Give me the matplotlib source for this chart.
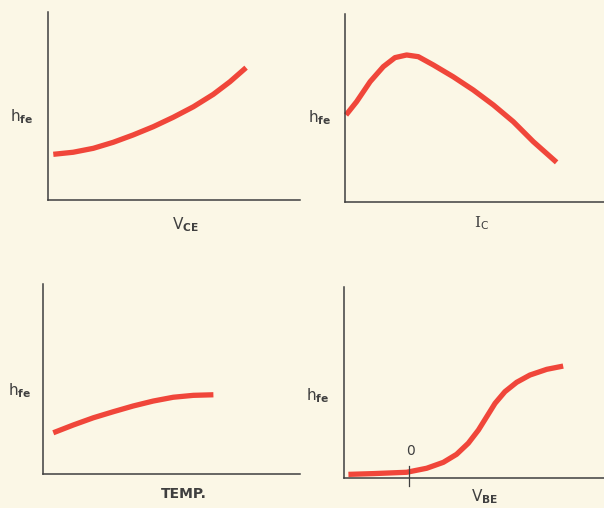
import matplotlib
matplotlib.use("Agg")
import matplotlib.pyplot as plt

W, H = 604, 508

# curves, each panel in 0-100 axis units
vce_x = [2.1, 10.0, 18.0, 25.9, 33.8, 41.8, 49.7, 57.7, 65.6, 72.2, 78.6]
vce_h = [24.3, 25.4, 27.5, 30.7, 34.6, 39.0, 44.0, 49.6, 56.2, 62.9, 70.4]

ic_x = [0.4, 4.5, 9.7, 14.8, 19.3, 23.8, 28.3, 34.1, 41.8, 49.5, 57.3, 65.0, 72.7, 81.7]
ic_h = [46.3, 53.4, 64.0, 72.0, 76.8, 78.2, 77.3, 72.9, 66.6, 59.6, 51.6, 42.7, 32.1, 21.1]

temp_x = [4.0, 11.8, 19.6, 27.4, 35.1, 42.9, 50.7, 58.5, 66.3]
temp_h = [21.7, 25.8, 29.6, 32.8, 35.8, 38.4, 40.4, 41.4, 41.7]

vbe_x = [1.7, 11.3, 24.1, 31.8, 38.2, 43.3, 47.8, 51.7, 54.9, 58.1, 61.9, 66.4, 71.5, 78.0, 84.3]
vbe_h = [1.9, 2.3, 3.0, 5.1, 8.2, 12.4, 18.2, 25.1, 32.1, 39.1, 45.2, 50.1, 53.9, 56.9, 58.6]
vbe_zero = 25.0

BG = "#fbf7e6"
RED = "#f0463a"
INK = "#3f3f3f"

plt.rcParams["font.family"] = ["DejaVu Sans"]
plt.rcParams["mathtext.fontset"] = "custom"
plt.rcParams["mathtext.rm"] = "DejaVu Sans"
plt.rcParams["mathtext.bf"] = "DejaVu Sans:bold"
plt.rcParams["mathtext.it"] = "DejaVu Serif"

fig = plt.figure(figsize=(W / 100, H / 100), dpi=100, facecolor=BG)


def panel(left, right, top, bottom):
    ax = fig.add_axes([left / W, (H - bottom) / H, (right - left) / W, (bottom - top) / H])
    ax.set_xlim(0, 100)
    ax.set_ylim(0, 100)
    ax.set_facecolor("none")
    for side in ("top", "right"):
        ax.spines[side].set_visible(False)
    for side in ("left", "bottom"):
        ax.spines[side].set_color(INK)
        ax.spines[side].set_linewidth(1.1)
    ax.set_xticks([])
    ax.set_yticks([])
    return ax


def hfe(ax, x, y):
    ax.text(x, y, r"$\mathregular{h}_{\mathbf{fe}}$", fontsize=11, color=INK,
            ha="left", va="center", clip_on=False)


def curve(ax, xs, ys):
    ax.plot(xs, ys, color=RED, lw=3.8, solid_capstyle="butt", solid_joinstyle="round", clip_on=False)


ax1 = panel(48, 300, 12, 200)
curve(ax1, vce_x, vce_h)
hfe(ax1, -15.1, 44.1)
ax1.text(54.4, -13.3, r"$\mathregular{V}_{\mathbf{CE}}$", fontsize=11, color=INK,
         ha="center", va="center", clip_on=False)

ax2 = panel(345, 604, 14, 202)
curve(ax2, ic_x, ic_h)
hfe(ax2, -14.3, 44.7)
ax2.text(52.5, -11.2, r"$\mathit{I}_{\mathregular{C}}$", fontsize=11, color=INK,
         ha="center", va="center", clip_on=False)

ax3 = panel(43, 300, 284, 474)
curve(ax3, temp_x, temp_h)
hfe(ax3, -13.6, 43.7)
ax3.text(54.9, -10.5, "TEMP.", fontsize=10, fontweight="bold", color=INK,
         ha="center", va="center", clip_on=False)

ax4 = panel(344, 604, 287, 478)
curve(ax4, vbe_x, vbe_h)
hfe(ax4, -14.6, 42.9)
ax4.plot([vbe_zero, vbe_zero], [6.3, -4.2], color=INK, lw=0.9, clip_on=False)
ax4.text(vbe_zero + 0.4, 14.1, "0", fontsize=10, color=INK, ha="center", va="center", clip_on=False)
ax4.text(54.2, -9.9, r"$\mathregular{V}_{\mathbf{BE}}$", fontsize=11, color=INK,
         ha="center", va="center", clip_on=False)

fig.savefig("out.png", dpi=100, facecolor=BG)
